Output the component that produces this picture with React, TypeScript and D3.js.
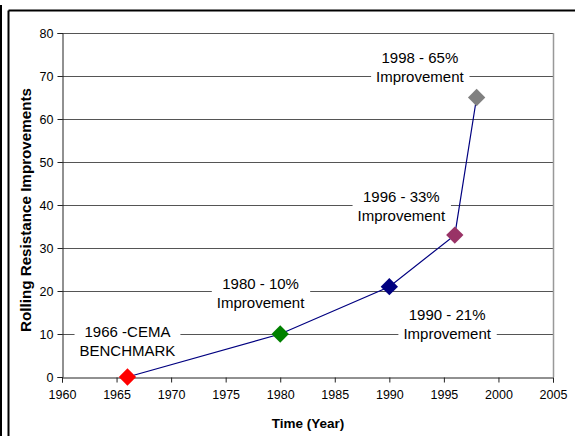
import React, { useEffect, useRef } from 'react';
import * as d3 from 'd3';

// measured points
const years = [1966, 1980, 1990, 1996, 1998];
const improvements = [0, 10, 21, 33, 65];
const markerColors = ['#ff0000', '#008000', '#000080', '#993366', '#808080'];

// callout text and where it sits (in data units)
const noteLines = [
  ['1966 -CEMA', 'BENCHMARK'],
  ['1980 - 10%', 'Improvement'],
  ['1990 - 21%', 'Improvement'],
  ['1996 - 33%', 'Improvement'],
  ['1998 - 65%', 'Improvement'],
];
const noteYear = [1966.0, 1978.2, 1995.3, 1991.1, 1992.8];
const noteValue = [8.3, 19.4, 12.3, 39.8, 72.1];

const xTicks = [1960, 1965, 1970, 1975, 1980, 1985, 1990, 1995, 2000, 2005];
const yTicks = [0, 10, 20, 30, 40, 50, 60, 70, 80];

const W = 575;
const H = 436;
const FONT = 'Liberation Sans, Arial, sans-serif';

export default function App() {
  const svgRef = useRef<SVGSVGElement | null>(null);

  useEffect(() => {
    const svg = d3.select(svgRef.current);
    svg.selectAll('*').remove();

    const x = d3.scaleLinear().domain([1960, 2005]).range([62, 553]);
    const y = d3.scaleLinear().domain([0, 80]).range([377, 33]);

    svg.append('rect').attr('width', W).attr('height', H).attr('fill', '#fff');

    // outer frame bits
    svg.append('line').attr('x1', 1).attr('x2', 1).attr('y1', 5).attr('y2', H)
      .attr('stroke', '#000').attr('stroke-width', 2);
    svg.append('line').attr('x1', 8.5).attr('x2', 8.5).attr('y1', 10.5).attr('y2', H)
      .attr('stroke', '#000').attr('stroke-width', 2);
    svg.append('line').attr('x1', 8.5).attr('x2', W).attr('y1', 10.5).attr('y2', 10.5)
      .attr('stroke', '#000').attr('stroke-width', 2);

    // gridlines
    svg.append('g').selectAll('line').data(yTicks.filter(d => d > 0)).enter().append('line')
      .attr('x1', x(1960)).attr('x2', x(2005))
      .attr('y1', d => Math.round(y(d)) + 0.5).attr('y2', d => Math.round(y(d)) + 0.5)
      .attr('stroke', '#555').attr('stroke-width', 1);

    // right border
    svg.append('line').attr('x1', x(2005) + 0.5).attr('x2', x(2005) + 0.5)
      .attr('y1', y(80)).attr('y2', y(0))
      .attr('stroke', '#999').attr('stroke-width', 1.5);

    // axes
    const yAxis = d3.axisLeft(y).tickValues(yTicks).tickSize(5).tickPadding(4);
    const gy = svg.append('g').attr('transform', `translate(${x(1960) + 0.5},0)`).call(yAxis);
    gy.select('.domain').attr('stroke', '#222');
    gy.selectAll('line').attr('stroke', '#222');
    gy.selectAll('text').attr('font-family', FONT).attr('font-size', 12.5).attr('fill', '#000');

    const xAxis = d3.axisBottom(x).tickValues(xTicks).tickFormat(d3.format('d')).tickSize(5).tickPadding(8);
    const gx = svg.append('g').attr('transform', `translate(0,${y(0) + 0.5})`).call(xAxis);
    gx.select('.domain').attr('stroke', '#222');
    gx.selectAll('line').attr('stroke', '#222');
    gx.selectAll('text').attr('font-family', FONT).attr('font-size', 12.5).attr('fill', '#000');

    // axis titles
    svg.append('text').attr('x', 308).attr('y', 428).attr('text-anchor', 'middle')
      .attr('font-family', FONT).attr('font-size', 13.5).attr('font-weight', 'bold')
      .text('Time (Year)');
    svg.append('text').attr('transform', 'translate(31,210) rotate(-90)')
      .attr('text-anchor', 'middle')
      .attr('font-family', FONT).attr('font-size', 14).attr('font-weight', 'bold')
      .attr('textLength', 244).attr('lengthAdjust', 'spacingAndGlyphs')
      .text('Rolling Resistance Improvements');

    // callouts with white boxes over the grid
    noteLines.forEach((lines, i) => {
      const cx = x(noteYear[i]);
      const cy = y(noteValue[i]);
      const g = svg.append('g');
      const box = g.append('rect').attr('fill', '#fff');
      const t = g.append('text').attr('text-anchor', 'middle')
        .attr('font-family', FONT).attr('font-size', 15).attr('fill', '#000');
      lines.forEach((s, j) => {
        t.append('tspan').attr('x', cx).attr('y', cy + (j - 0.5) * 19 + 5.3).text(s);
      });
      const bb = (t.node() as SVGTextElement).getBBox();
      box.attr('x', bb.x - 5).attr('y', bb.y).attr('width', bb.width + 10).attr('height', bb.height);
    });

    // series line
    const pts = years.map((yr, i) => [x(yr), y(improvements[i])] as [number, number]);
    svg.append('path').attr('d', d3.line()(pts))
      .attr('fill', 'none').attr('stroke', '#000080').attr('stroke-width', 1.2);

    // diamond markers
    const diamond = d3.symbol().type(d3.symbolSquare).size(150);
    svg.append('g').selectAll('path').data(pts).enter().append('path')
      .attr('d', diamond() as string)
      .attr('transform', d => `translate(${d[0]},${d[1]}) rotate(45)`)
      .attr('fill', (_, i) => markerColors[i]);
  }, []);

  return (
    <svg ref={svgRef} width={W} height={H}
      style={{ position: 'absolute', left: 0, top: 0, display: 'block' }} />
  );
}
